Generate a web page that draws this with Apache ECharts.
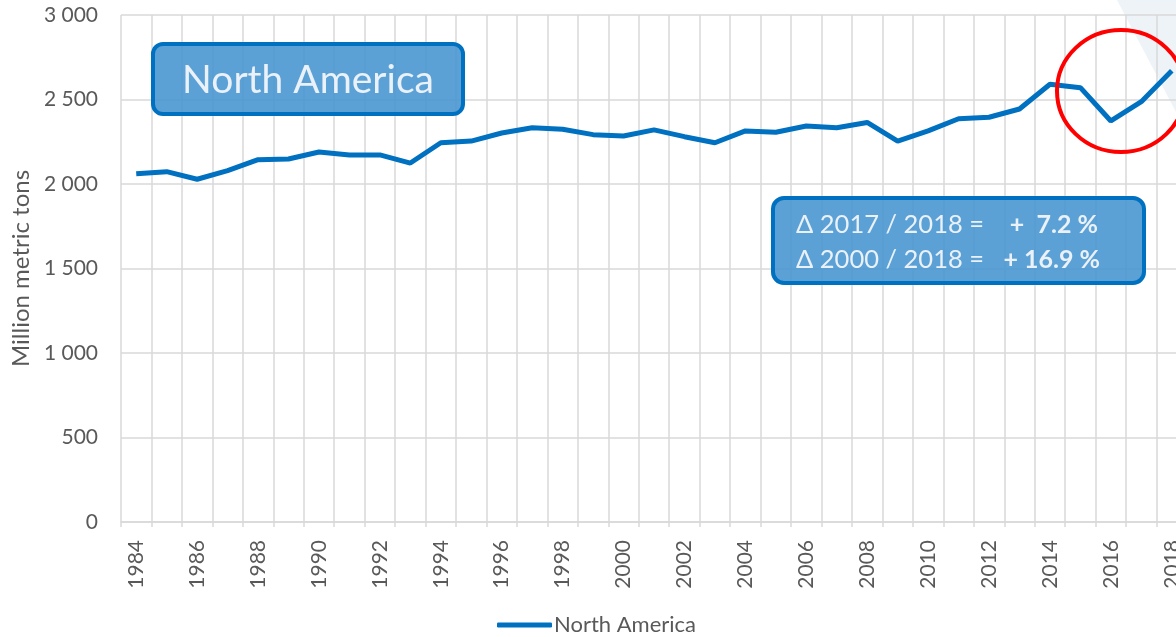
<!DOCTYPE html>
<html>
<head>
<meta charset="utf-8">
<script src="https://cdn.jsdelivr.net/npm/echarts@6/dist/echarts.min.js"></script>
<style>
html,body{margin:0;padding:0;background:#fff;}
#chart{width:1176px;height:637px;}
</style>
</head>
<body>
<div id="chart"></div>
<script>
var years = ['1984','1985','1986','1987','1988','1989','1990','1991','1992','1993','1994','1995','1996','1997','1998','1999','2000','2001','2002','2003','2004','2005','2006','2007','2008','2009','2010','2011','2012','2013','2014','2015','2016','2017','2018'];
var northAmerica = [2061,2073,2028,2079,2144,2148,2189,2172,2172,2124,2244,2254,2302,2333,2324,2292,2284,2320,2280,2244,2314,2306,2343,2333,2364,2254,2314,2386,2395,2444,2590,2570,2373,2487,2670];
var seriesName = 'North America';
var yAxisTitle = 'Million metric tons';
var titleText = 'North America';
var deltaLabels = ['\u0394 2017 / 2018 =', '\u0394 2000 / 2018 ='];
var deltaValues = ['+  7.2 %', '+ 16.9 %'];

var FONT = 'Lato, "Open Sans", sans-serif';
var chart = echarts.init(document.getElementById('chart'), null, {renderer: 'canvas'});

var boxFill = 'rgba(68,148,208,0.88)';
var boxStroke = '#0070C0';
var boxText = '#EAF1F8';

chart.setOption({
  animation: false,
  backgroundColor: '#ffffff',
  textStyle: {fontFamily: FONT},
  grid: {left: 121, right: -11, top: 15, bottom: 115, containLabel: false, outerBoundsMode: 'none'},
  legend: {
    data: [{name: seriesName, icon: 'roundRect'}],
    left: 497, top: 614, padding: 0,
    itemWidth: 55, itemHeight: 5, itemGap: 10,
    textStyle: {fontSize: 22, color: '#595959', fontFamily: FONT, padding: [0,0,0,-3]}
  },
  xAxis: {
    type: 'category',
    data: years,
    boundaryGap: true,
    axisLine: {show: true, lineStyle: {color: '#D9D9D9', width: 1.5}},
    axisTick: {show: true, interval: 0, length: 5, lineStyle: {color: '#D9D9D9', width: 1.5}},
    splitLine: {show: true, interval: 0, lineStyle: {color: '#D9D9D9', width: 1.5}},
    axisLabel: {interval: 1, rotate: 90, margin: 18, fontSize: 21, color: '#595959', fontFamily: FONT}
  },
  yAxis: {
    type: 'value',
    min: 0, max: 3000, interval: 500,
    name: yAxisTitle,
    nameLocation: 'middle',
    nameRotate: 90,
    nameGap: 88,
    nameTextStyle: {fontSize: 24, color: '#595959', fontFamily: FONT},
    axisLine: {show: false},
    axisTick: {show: false},
    splitLine: {show: true, lineStyle: {color: '#D9D9D9', width: 1.5}},
    axisLabel: {
      fontSize: 21, color: '#595959', margin: 23, fontFamily: FONT,
      formatter: function (v) { return String(v).replace(/\B(?=(\d{3})+(?!\d))/g, ' '); }
    }
  },
  series: [{
    name: seriesName,
    type: 'line',
    data: northAmerica,
    symbol: 'none',
    smooth: false,
    lineStyle: {color: '#0070C0', width: 5},
    itemStyle: {color: '#0070C0'},
    z: 3
  }],
  graphic: [
    {type: 'polygon', z: -10, silent: true, shape: {points: [[1117,0],[1176,0],[1176,112]]}, style: {fill: '#EEF3F7'}},
    {type: 'rect', z: 10, shape: {x: 153, y: 44, width: 310, height: 70, r: 10}, style: {fill: boxFill, stroke: boxStroke, lineWidth: 4}},
    {type: 'text', z: 11, x: 308, y: 80, style: {text: titleText, fill: boxText, font: '39px ' + FONT, align: 'center', verticalAlign: 'middle'}},
    {type: 'rect', z: 10, shape: {x: 773, y: 198, width: 371, height: 85, r: 11}, style: {fill: boxFill, stroke: boxStroke, lineWidth: 4}},
    {type: 'text', z: 11, x: 796, y: 225, style: {text: deltaLabels[0], fill: boxText, font: '25.5px ' + FONT, verticalAlign: 'middle'}},
    {type: 'text', z: 11, x: 796, y: 260, style: {text: deltaLabels[1], fill: boxText, font: '25.5px ' + FONT, verticalAlign: 'middle'}},
    {type: 'text', z: 11, x: 1098, y: 225, style: {text: deltaValues[0], fill: boxText, font: 'bold 25px ' + FONT, align: 'right', verticalAlign: 'middle'}},
    {type: 'text', z: 11, x: 1100, y: 260, style: {text: deltaValues[1], fill: boxText, font: 'bold 25px ' + FONT, align: 'right', verticalAlign: 'middle'}},
    {type: 'ellipse', z: 12, shape: {cx: 1121, cy: 91, rx: 64, ry: 61}, style: {fill: 'none', stroke: '#FF0000', lineWidth: 4}}
  ]
});
</script>
</body>
</html>
